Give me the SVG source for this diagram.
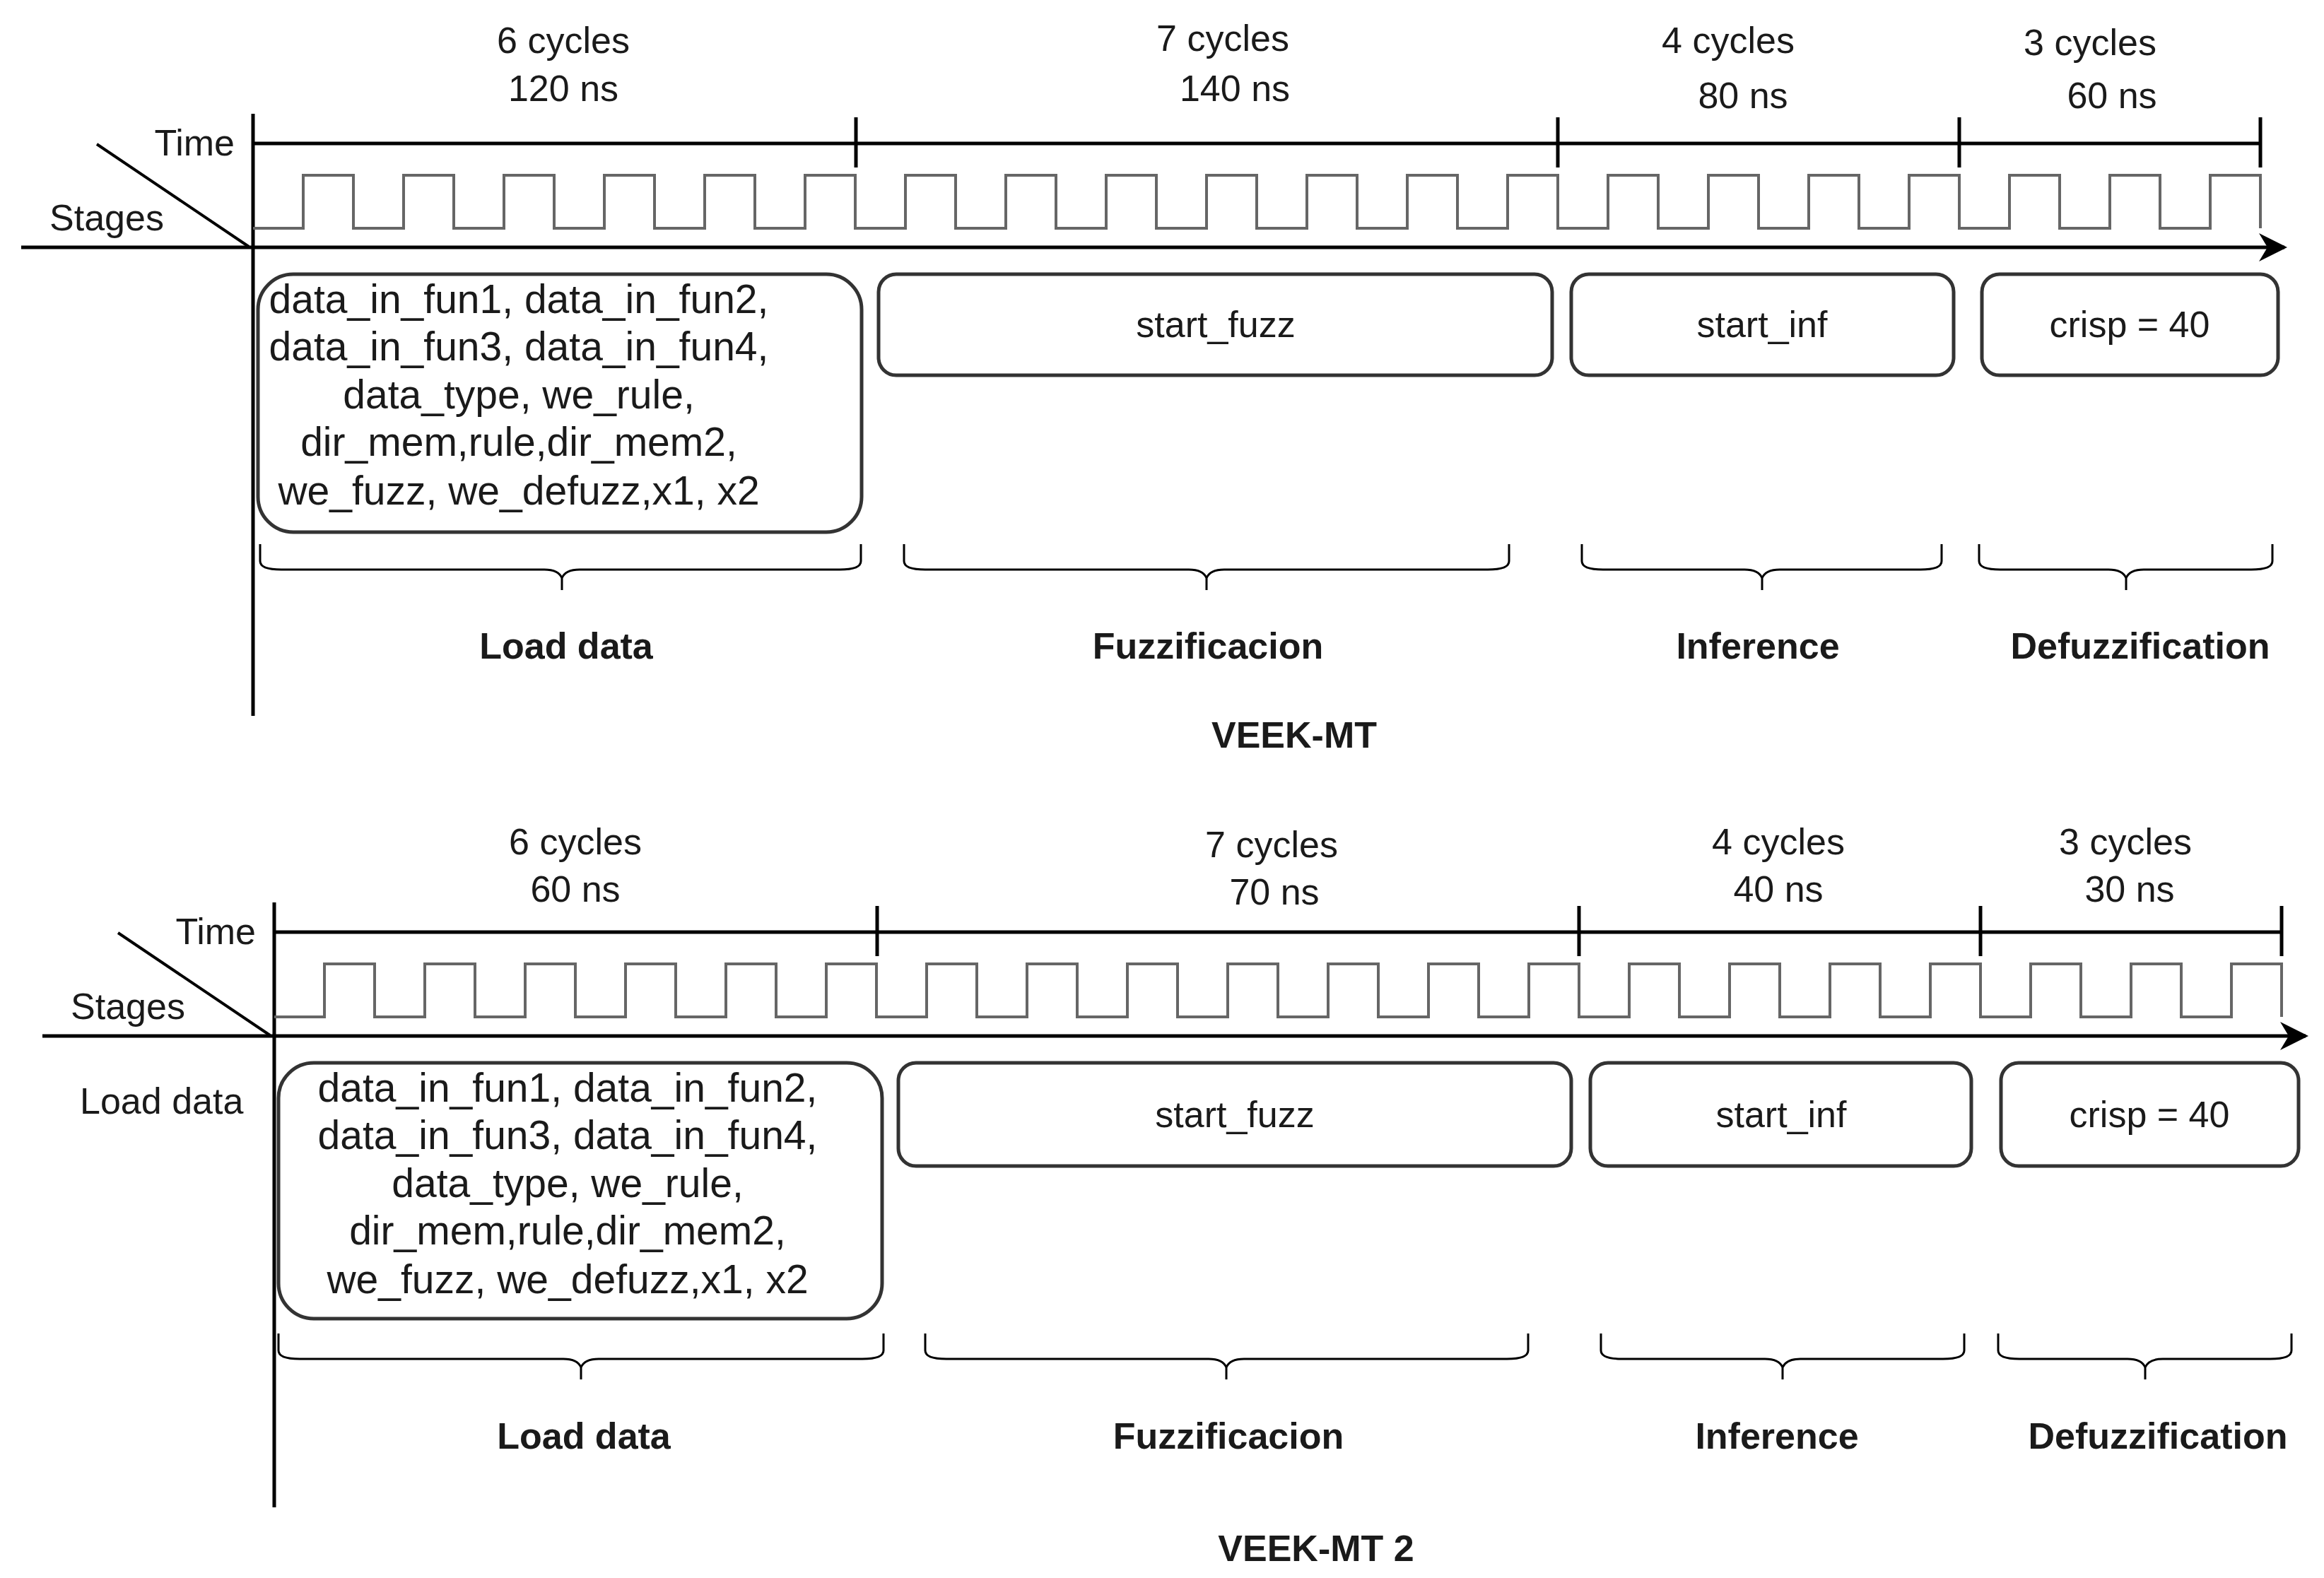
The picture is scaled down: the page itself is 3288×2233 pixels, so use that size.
<svg xmlns="http://www.w3.org/2000/svg" width="3288" height="2233" viewBox="0 0 3288 2233">
<defs>
<style>
text{font-family:"Liberation Sans",Arial,sans-serif;fill:#1a1a1a;}
.lbl{font-size:52px;text-anchor:middle;}
.bt{font-size:57px;text-anchor:middle;}
.st{font-size:52px;text-anchor:middle;font-weight:bold;}
.ax{stroke:#000;stroke-width:5;fill:none;}
.tk{stroke:#000;stroke-width:5;}
.clk{stroke:#666;stroke-width:4;fill:none;}
.box{fill:#fff;stroke:#333;stroke-width:5;}
.br{stroke:#000;stroke-width:3;fill:none;}
</style>
<marker id="ar" viewBox="0 0 10 10" refX="9" refY="5" markerWidth="8" markerHeight="8" orient="auto" markerUnits="strokeWidth"><path d="M0,0 L10,5 L0,10 L3,5 z" fill="#000"/></marker>
</defs>
<rect width="3288" height="2233" fill="#fff"/>

<g id="connectors">
<line class="ax" x1="358" y1="161" x2="358" y2="1013"/>
<line class="ax" x1="30" y1="350" x2="3232" y2="350" marker-end="url(#ar)"/>
<line class="ax" x1="137" y1="204" x2="352" y2="349" style="stroke-width:4"/>
<line class="ax" x1="358" y1="203" x2="3198" y2="203"/>
<path class="tk" d="M1211,166V237M2204,166V237M2772,166V237M3198,166V237"/>
<path class="clk" d="M358,323 h71 v-75 h71 v75 h71 v-75 h71 v75 h71 v-75 h71 v75 h71 v-75 h71 v75 h71 v-75 h71 v75 h71 v-75 h71 v75 h71 v-75 h71 v75 h71 v-75 h71 v75 h71 v-75 h71 v75 h71 v-75 h71 v75 h71 v-75 h71 v75 h71 v-75 h71 v75 h71 v-75 h71 v75 h71 v-75 h71 v75 h71 v-75 h71 v75 h71 v-75 h71 v75 h71 v-75 h71 v75 h71 v-75 h71 v75 h71 v-75 h71 v75 h71 v-75 h71 v75"/>
<line class="ax" x1="388" y1="1277" x2="388" y2="2133"/>
<line class="ax" x1="60" y1="1466" x2="3262" y2="1466" marker-end="url(#ar)"/>
<line class="ax" x1="167" y1="1320" x2="382" y2="1465" style="stroke-width:4"/>
<line class="ax" x1="388" y1="1319" x2="3228" y2="1319"/>
<path class="tk" d="M1241,1282V1353M2234,1282V1353M2802,1282V1353M3228,1282V1353"/>
<path class="clk" d="M388,1439 h71 v-75 h71 v75 h71 v-75 h71 v75 h71 v-75 h71 v75 h71 v-75 h71 v75 h71 v-75 h71 v75 h71 v-75 h71 v75 h71 v-75 h71 v75 h71 v-75 h71 v75 h71 v-75 h71 v75 h71 v-75 h71 v75 h71 v-75 h71 v75 h71 v-75 h71 v75 h71 v-75 h71 v75 h71 v-75 h71 v75 h71 v-75 h71 v75 h71 v-75 h71 v75 h71 v-75 h71 v75 h71 v-75 h71 v75 h71 v-75 h71 v75 h71 v-75 h71 v75"/>
<path class="br" d="M368,770V794Q368,806 398,806H770Q790,806 795,818Q800,806 820,806H1188Q1218,806 1218,794V770M795,816V835"/>
<path class="br" d="M1279,770V794Q1279,806 1309,806H1682Q1702,806 1707,818Q1712,806 1732,806H2105Q2135,806 2135,794V770M1707,816V835"/>
<path class="br" d="M2238,770V794Q2238,806 2268,806H2468Q2488,806 2493,818Q2498,806 2518,806H2717Q2747,806 2747,794V770M2493,816V835"/>
<path class="br" d="M2800,770V794Q2800,806 2830,806H2983Q3003,806 3008,818Q3013,806 3033,806H3185Q3215,806 3215,794V770M3008,816V835"/>
<path class="br" d="M394,1887V1911Q394,1923 424,1923H797Q817,1923 822,1935Q827,1923 847,1923H1220Q1250,1923 1250,1911V1887M822,1933V1952"/>
<path class="br" d="M1309,1887V1911Q1309,1923 1339,1923H1710Q1730,1923 1735,1935Q1740,1923 1760,1923H2132Q2162,1923 2162,1911V1887M1735,1933V1952"/>
<path class="br" d="M2265,1887V1911Q2265,1923 2295,1923H2497Q2517,1923 2522,1935Q2527,1923 2547,1923H2749Q2779,1923 2779,1911V1887M2522,1933V1952"/>
<path class="br" d="M2827,1887V1911Q2827,1923 2857,1923H3010Q3030,1923 3035,1935Q3040,1923 3060,1923H3212Q3242,1923 3242,1911V1887M3035,1933V1952"/>
</g>

<g id="labels1">
<text class="lbl" x="332" y="220" style="text-anchor:end">Time</text>
<text class="lbl" x="70" y="326" style="text-anchor:start">Stages</text>
<text class="lbl" x="797" y="75">6 cycles</text><text class="lbl" x="797" y="143">120 ns</text>
<text class="lbl" x="1730" y="72">7 cycles</text><text class="lbl" x="1747" y="143">140 ns</text>
<text class="lbl" x="2445" y="75">4 cycles</text><text class="lbl" x="2466" y="153">80 ns</text>
<text class="lbl" x="2957" y="78">3 cycles</text><text class="lbl" x="2988" y="153">60 ns</text>
<text class="st" x="801" y="932">Load data</text>
<text class="st" x="1709" y="932">Fuzzificacion</text>
<text class="st" x="2487" y="932">Inference</text>
<text class="st" x="3028" y="932">Defuzzification</text>
<text class="st" x="1831" y="1058">VEEK-MT</text>
</g>
<g id="load1"><rect class="box" x="365" y="388" width="854" height="365" rx="50"/>
<text class="bt" x="734"><tspan x="734" y="443">data_in_fun1, data_in_fun2,</tspan><tspan x="734" y="510">data_in_fun3, data_in_fun4,</tspan><tspan x="734" y="578">data_type, we_rule,</tspan><tspan x="734" y="645">dir_mem,rule,dir_mem2,</tspan><tspan x="734" y="714">we_fuzz, we_defuzz,x1, x2</tspan></text></g>
<g id="fuzz1"><rect class="box" x="1243" y="388" width="953" height="143" rx="25"/><text class="lbl" x="1720" y="477">start_fuzz</text></g>
<g id="inf1"><rect class="box" x="2223" y="388" width="541" height="143" rx="25"/><text class="lbl" x="2493" y="477">start_inf</text></g>
<g id="defuzz1"><rect class="box" x="2804" y="388" width="419" height="143" rx="25"/><text class="lbl" x="3013" y="477">crisp = 40</text></g>

<g id="labels2">
<text class="lbl" x="362" y="1336" style="text-anchor:end">Time</text>
<text class="lbl" x="100" y="1442" style="text-anchor:start">Stages</text>
<text class="lbl" x="113" y="1576" style="text-anchor:start">Load data</text>
<text class="lbl" x="814" y="1209">6 cycles</text><text class="lbl" x="814" y="1276">60 ns</text>
<text class="lbl" x="1799" y="1213">7 cycles</text><text class="lbl" x="1803" y="1280">70 ns</text>
<text class="lbl" x="2516" y="1209">4 cycles</text><text class="lbl" x="2516" y="1276">40 ns</text>
<text class="lbl" x="3007" y="1209">3 cycles</text><text class="lbl" x="3013" y="1276">30 ns</text>
<text class="st" x="826" y="2050">Load data</text>
<text class="st" x="1738" y="2050">Fuzzificacion</text>
<text class="st" x="2514" y="2050">Inference</text>
<text class="st" x="3053" y="2050">Defuzzification</text>
<text class="st" x="1862" y="2209">VEEK-MT 2</text>
</g>
<g id="load2"><rect class="box" x="394" y="1504" width="854" height="362" rx="50"/>
<text class="bt" x="803"><tspan x="803" y="1559">data_in_fun1, data_in_fun2,</tspan><tspan x="803" y="1626">data_in_fun3, data_in_fun4,</tspan><tspan x="803" y="1694">data_type, we_rule,</tspan><tspan x="803" y="1761">dir_mem,rule,dir_mem2,</tspan><tspan x="803" y="1830">we_fuzz, we_defuzz,x1, x2</tspan></text></g>
<g id="fuzz2"><rect class="box" x="1271" y="1504" width="952" height="146" rx="25"/><text class="lbl" x="1747" y="1595">start_fuzz</text></g>
<g id="inf2"><rect class="box" x="2250" y="1504" width="539" height="146" rx="25"/><text class="lbl" x="2520" y="1595">start_inf</text></g>
<g id="defuzz2"><rect class="box" x="2831" y="1504" width="421" height="146" rx="25"/><text class="lbl" x="3041" y="1595">crisp = 40</text></g>
</svg>
